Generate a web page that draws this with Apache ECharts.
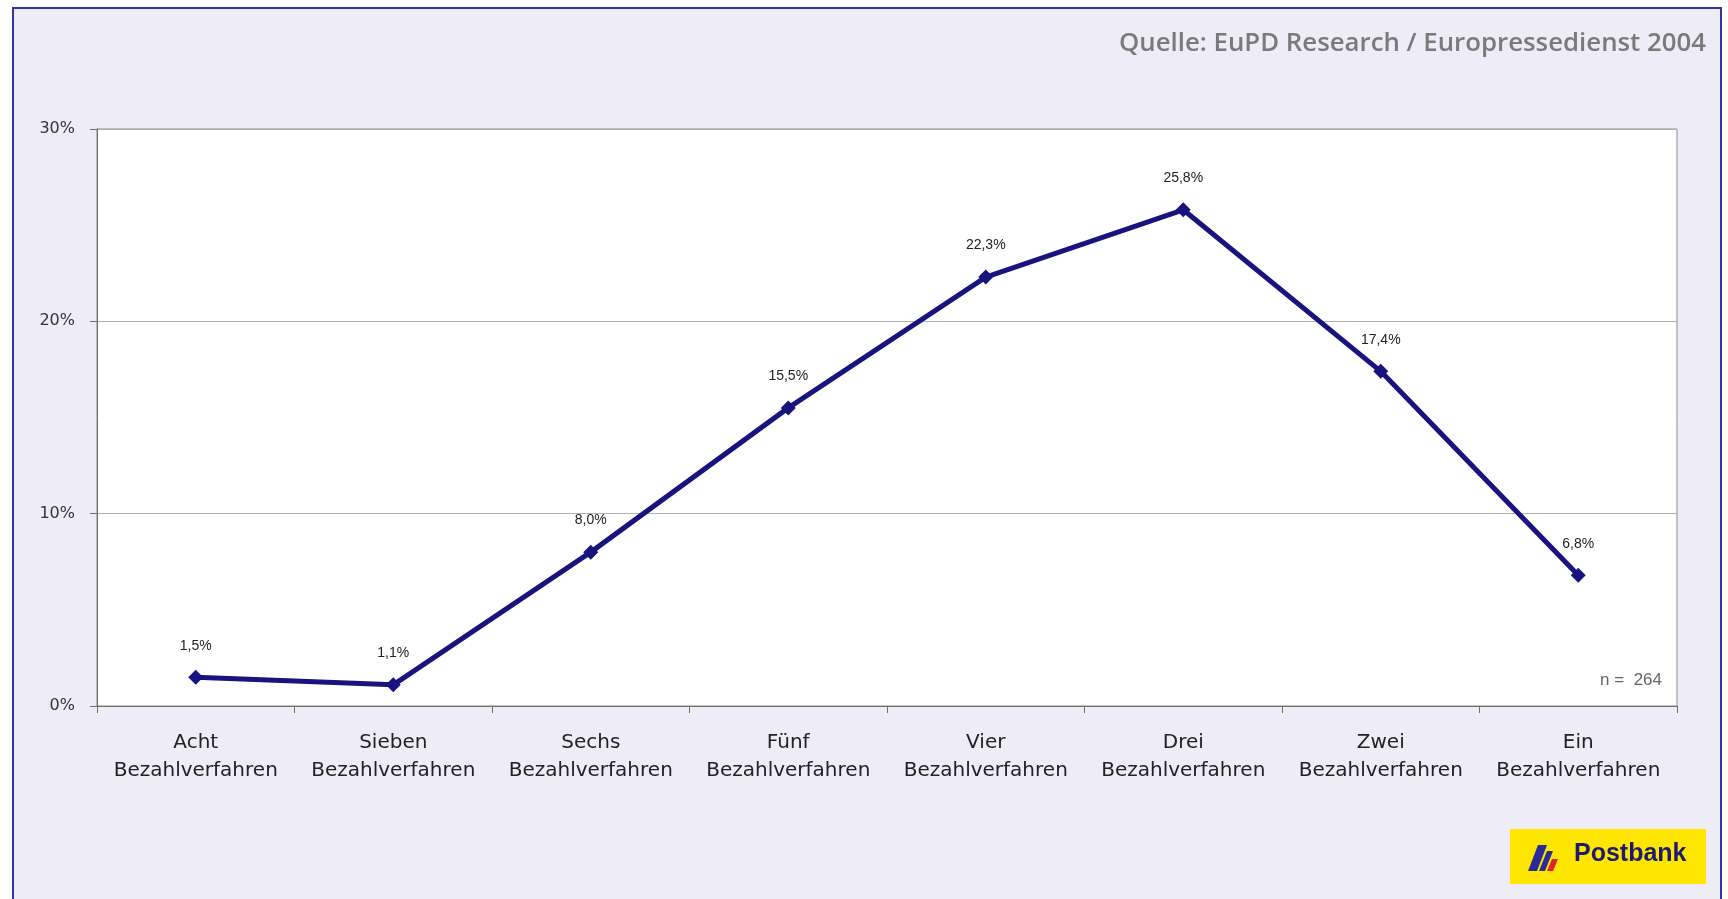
<!DOCTYPE html>
<html>
<head>
<meta charset="utf-8">
<script src="https://cdn.jsdelivr.net/npm/echarts@6/dist/echarts.min.js"></script>
<style>
html,body{margin:0;padding:0;background:#ffffff;}
#chart{width:1728px;height:899px;}
</style>
</head>
<body>
<div id="chart"></div>
<script>
const categories = ['Acht\nBezahlverfahren','Sieben\nBezahlverfahren','Sechs\nBezahlverfahren','Fünf\nBezahlverfahren','Vier\nBezahlverfahren','Drei\nBezahlverfahren','Zwei\nBezahlverfahren','Ein\nBezahlverfahren'];
const shareValues = [1.5, 1.1, 8.0, 15.5, 22.3, 25.8, 17.4, 6.8];
const yTicks = [0, 10, 20, 30];
const sourceText = 'Quelle: EuPD Research / Europressedienst 2004';
const sampleText = 'n =  264';
const logoText = 'Postbank';

const chart = echarts.init(document.getElementById('chart'));
chart.setOption({
  animation: false,
  backgroundColor: 'transparent',
  grid: {
    left: 97, right: 51, top: 129, bottom: 193,
    show: true, backgroundColor: '#ffffff', borderColor: '#8a8a8a', borderWidth: 1
  },
  xAxis: {
    type: 'category',
    data: categories,
    boundaryGap: true,
    axisLine: { lineStyle: { color: '#6e6e6e', width: 1 } },
    axisTick: { show: true, inside: false, length: 7, lineStyle: { color: '#6e6e6e' } },
    axisLabel: {
      margin: 23, color: '#222', fontFamily: 'DejaVu Sans', fontSize: 20, lineHeight: 28,
      interval: 0
    }
  },
  yAxis: {
    type: 'value',
    min: yTicks[0], max: yTicks[yTicks.length - 1], interval: 10,
    axisLine: { show: true, lineStyle: { color: '#6e6e6e' } },
    axisTick: { show: true, length: 7, lineStyle: { color: '#6e6e6e' } },
    splitLine: { show: true, lineStyle: { color: '#b0b0b0', width: 1 } },
    axisLabel: {
      margin: 22, color: '#333', fontFamily: 'DejaVu Sans', fontSize: 16,
      formatter: v => v + '%'
    }
  },
  series: [{
    type: 'line',
    data: shareValues,
    symbol: 'diamond',
    symbolSize: 15,
    lineStyle: { color: '#18137f', width: 5 },
    itemStyle: { color: '#18137f' },
    label: {
      show: true, position: 'top', distance: 17,
      color: '#222', fontFamily: 'Liberation Sans', fontSize: 14,
      formatter: p => p.value.toFixed(1).replace('.', ',') + '%'
    }
  }],
  graphic: [
    {
      type: 'rect', z: -100, silent: true,
      shape: { x: 13, y: 8, width: 1708, height: 900 },
      style: { fill: '#eeedf7', stroke: '#3434a6', lineWidth: 2 }
    },
    {
      type: 'text', right: 22, top: 31,
      style: { text: sourceText, fill: '#7a7a7a', font: '600 25.8px "Open Sans"' }
    },
    {
      type: 'text', right: 66, top: 672,
      style: { text: sampleText, fill: '#666', font: '17px "Liberation Sans"' }
    },
    {
      type: 'group', left: 1510, top: 829,
      children: [
        { type: 'rect', shape: { x: 0, y: 0, width: 196, height: 55 }, style: { fill: '#ffe600' } },
        { type: 'polygon', shape: { points: [[18,42],[28,16],[37,16],[27,42]] }, style: { fill: '#2a2a9a' } },
        { type: 'polygon', shape: { points: [[29,42],[37,22],[43,22],[35,42]] }, style: { fill: '#2a2a9a' } },
        { type: 'polygon', shape: { points: [[37,42],[42,30],[48,30],[43,42]] }, style: { fill: '#d8262a' } },
        { type: 'text', x: 64, y: 13, style: { text: logoText, fill: '#1c1c6e', font: 'bold 25px "Liberation Sans"' } }
      ]
    }
  ]
});
</script>
</body>
</html>
